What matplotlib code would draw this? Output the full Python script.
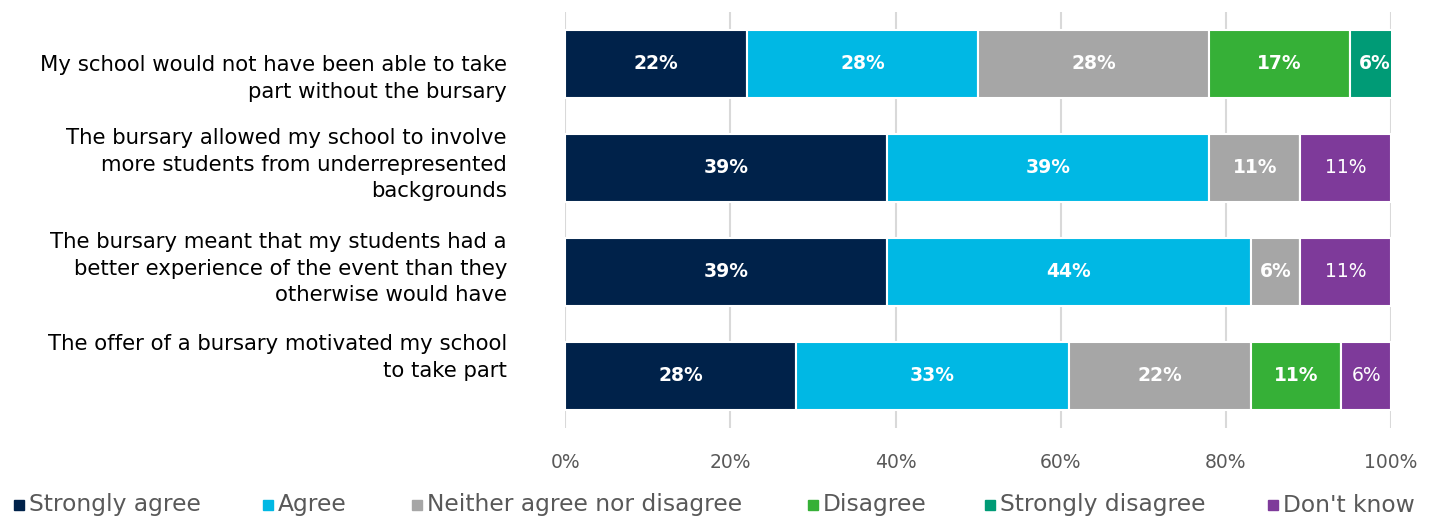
import numpy as np
import matplotlib.pyplot as plt
from matplotlib.patches import Rectangle

# Survey statements (top to bottom)
statements = [
    "My school would not have been able to take\npart without the bursary",
    "The bursary allowed my school to involve\nmore students from underrepresented\nbackgrounds",
    "The bursary meant that my students had a\nbetter experience of the event than they\notherwise would have",
    "The offer of a bursary motivated my school\nto take part",
]

responses = ["Strongly agree", "Agree", "Neither agree nor disagree",
             "Disagree", "Strongly disagree", "Don't know"]

strongly_agree = [22, 39, 39, 28]
agree = [28, 39, 44, 33]
neither = [28, 11, 6, 22]
disagree = [17, 0, 0, 11]
strongly_disagree = [6, 0, 0, 0]
dont_know = [0, 11, 11, 6]

colors = ["#00224a", "#00b8e4", "#a6a6a6", "#36b037", "#009b76", "#7e3a9a"]

series = [strongly_agree, agree, neither, disagree, strongly_disagree, dont_know]

W, H = 1431, 518
fig = plt.figure(figsize=(W / 100, H / 100), dpi=100)
ax = fig.add_axes([0.395, 0.174, 0.577, 0.803])

y = np.arange(len(statements))
left = np.zeros(len(statements))
for i, (vals, col) in enumerate(zip(series, colors)):
    vals = np.array(vals, dtype=float)
    ax.barh(y, vals, left=left, height=0.65, color=col, edgecolor="white",
            linewidth=1.5, zorder=3)
    for j, v in enumerate(vals):
        if v > 0:
            ax.text(left[j] + v / 2, y[j], f"{int(v)}%", ha="center", va="center",
                    color="white", fontsize=13.5,
                    fontweight="normal" if i == 5 else "bold", zorder=4)
    left += vals

ax.set_xlim(0, 100)
ax.set_ylim(3.5, -0.5)
ax.set_xticks(np.arange(0, 101, 20))
ax.set_xticklabels([f"{t}%" for t in range(0, 101, 20)])
ax.set_yticks(y)
ax.set_yticklabels([])
ax.tick_params(axis="y", length=0)
ax.tick_params(axis="x", length=0, pad=18, labelsize=13.5, labelcolor="#595959")
ax.grid(axis="x", color="#d9d9d9", linewidth=1.5, zorder=0)
for s in ax.spines.values():
    s.set_visible(False)

# category labels: Excel places them from the top, not centred on the bar
label_top = [64, 137, 241, 343]  # pixel y of first line centre
for ty, lab in zip(label_top, statements):
    fig.text(507 / W, (H - ty + 9) / H, lab, fontsize=15.3, color="#000000",
             ha="right", va="top", linespacing=1.42)

# legend laid out by hand (pixel x of each square in the original)
legend_x = [14, 263, 412, 808, 985, 1268]
legend_y = 505
for lx, lab, c in zip(legend_x, responses, colors):
    fig.patches.append(Rectangle((lx / W, (H - legend_y - 5) / H), 10 / W, 10 / H,
                                 transform=fig.transFigure, color=c))
    fig.text((lx + 15) / W, (H - legend_y) / H, lab, fontsize=16.8,
             color="#595959", va="center", ha="left")

plt.savefig("out.png", dpi=100)
